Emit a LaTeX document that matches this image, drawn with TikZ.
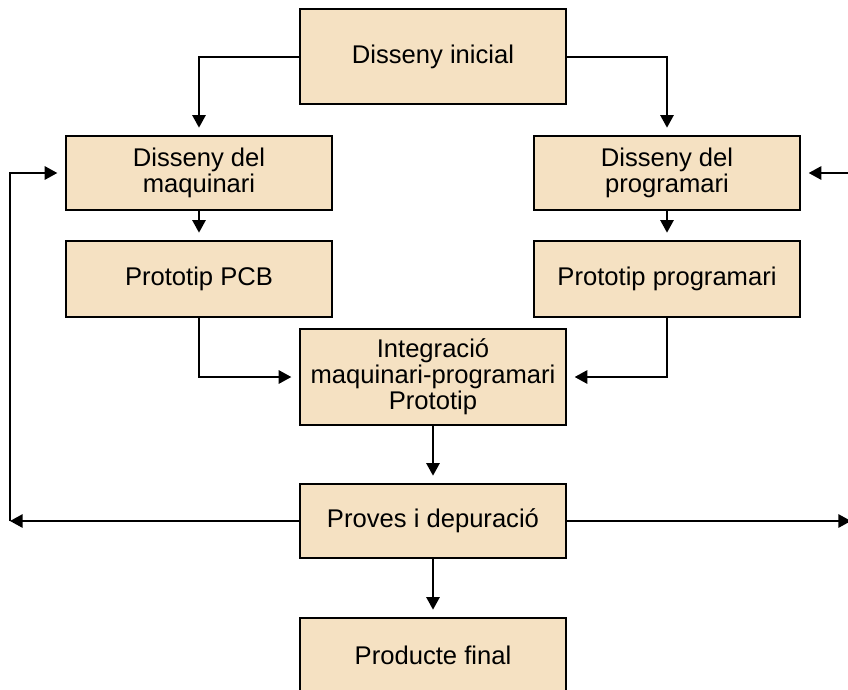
\documentclass[tikz,border=0pt]{standalone}
\usepackage{fontspec}
\setmainfont{Liberation Sans}
\usetikzlibrary{arrows.meta}
\definecolor{boxfill}{RGB}{245,225,194}
\tikzset{
  box/.style={draw=black, fill=boxfill, line width=1.5pt, minimum width=200pt, align=center,
    font=\fontsize{19.2}{19.5}\selectfont, inner sep=0pt},
  conn/.style={line width=1.5pt, -{Triangle[length=9.5pt,width=10pt]}, shorten >=5.5pt},
  plain/.style={line width=1.5pt}
}
\begin{document}
\begin{tikzpicture}[x=0.75pt,y=-0.75pt]
\useasboundingbox (0,0) rectangle (848,689);
\node[box, minimum height=71.25pt] (ini) at (433,56.5) {Disseny inicial};
\node[box, minimum height=55.5pt] (maq) at (199,173) {Disseny del\\maquinari};
\node[box, minimum height=55.5pt] (prog) at (667,173) {Disseny del\\programari};
\node[box, minimum height=57pt] (pcb) at (199,279) {Prototip PCB};
\node[box, minimum height=57pt] (pprog) at (667,279) {Prototip programari};
\node[box, minimum height=72pt] (integ) at (433,377) {Integració\\maquinari-programari\\Prototip};
\node[box, minimum height=55.5pt] (proves) at (433,521) {Proves i depuració};
\node[box, minimum height=72pt, anchor=north] (final) at (433,617) {};
\node[font=\fontsize{19.2}{19.5}\selectfont] (finaltxt) at (433,655) {Producte final};

\coordinate (lc) at (10,521);
\coordinate (rc) at (851,521);
\coordinate (rt) at (860,173);

\draw[conn] (ini.west) -| (maq.north);
\draw[conn] (ini.east) -| (prog.north);
\draw[conn] (maq) -- (pcb);
\draw[conn] (prog) -- (pprog);
\draw[conn] (pcb.south) |- (integ.west);
\draw[conn] (pprog.south) |- (integ.east);
\draw[conn] (integ) -- (proves);
\draw[conn] (proves) -- (final);
\draw[conn, shorten >=0pt] (proves.west) -- (lc);
\draw[conn] (lc) |- (maq.west);
\draw[conn, shorten >=0pt] (proves.east) -- (rc);
\draw[conn] (rt) -- (prog.east);
\end{tikzpicture}
\end{document}
